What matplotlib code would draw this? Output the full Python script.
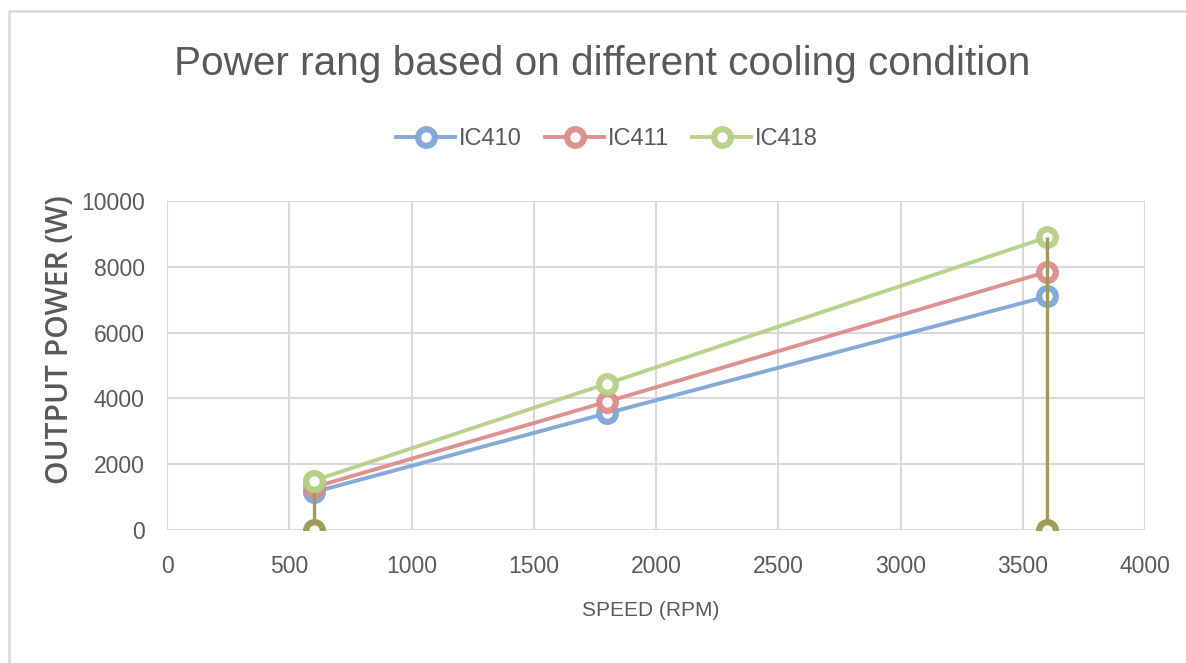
import matplotlib.pyplot as plt
from matplotlib.lines import Line2D

# data
speed = [600, 1800, 3600]
ic410 = [1150, 3550, 7100]
ic411 = [1300, 3900, 7850]
ic418 = [1500, 4450, 8900]
series_names = ["IC410", "IC411", "IC418"]
x_ticks = [0, 500, 1000, 1500, 2000, 2500, 3000, 3500, 4000]
y_ticks = [0, 2000, 4000, 6000, 8000, 10000]

colors = ["#7ea6d8", "#dc8c8c", "#b4cf86"]
olive = "#a09c58"
txt = "#595959"

plt.rcParams["font.family"] = ["Liberation Sans", "DejaVu Sans"]

W, H = 1186, 663
fig = plt.figure(figsize=(W / 100, H / 100), dpi=100)
fig.patch.set_facecolor("white")
ax = fig.add_axes([167 / W, 1 - 530 / H, 978 / W, 329 / H])

# outer chart border (left and top only visible)
fig.add_artist(Line2D([9 / W, 9 / W, 1], [0, 1 - 11 / H, 1 - 11 / H],
                      transform=fig.transFigure, color="#d9d9d9", lw=1.8))

for ys, c, name in zip([ic410, ic411, ic418], colors, series_names):
    ax.plot(speed, ys, color=c, lw=2.8, marker="o", ms=12, mew=4.5,
            mfc="white", mec=c, label=name, zorder=3, alpha=0.95)

# vertical boundary lines at min / max speed
ax.vlines([speed[0], speed[-1]], 0, [ic418[0], ic418[-1]], color=olive, lw=2.4, zorder=4)
ax.plot([speed[0], speed[-1]], [0, 0], ls="none", marker="o", ms=12, mew=4.5,
        mfc="#f4f8ec", mec=olive, zorder=5)
ax.plot([speed[0]], [ic418[0]], ls="none", marker="o", ms=12, mew=4.5,
        mfc="white", mec=colors[2], zorder=6)

ax.set_xlim(0, 4000)
ax.set_ylim(0, 10000)
ax.set_xticks(x_ticks)
ax.set_yticks(y_ticks)
ax.grid(True, color="#d9d9d9", lw=1.5)
ax.set_axisbelow(True)
for s in ax.spines.values():
    s.set_visible(False)
ax.tick_params(length=0, labelsize=16.5, colors=txt)
ax.tick_params(axis="x", pad=18)
ax.tick_params(axis="y", pad=16)
ax.set_facecolor("white")

fig.text(651 / W, 1 - 610 / H, "SPEED (RPM)", ha="center", va="center",
         fontsize=15, color=txt)
fig.text(60 / W, 1 - 340 / H, "OUTPUT POWER (W)", ha="center", va="center",
         rotation=90, fontsize=21.5, color=txt, fontweight=600,
         family=["Open Sans", "DejaVu Sans"])

fig.text(602 / W, 1 - 64 / H, "Power rang based on different cooling condition",
         ha="center", va="center", fontsize=29.2, color=txt)

leg = fig.legend(loc="center", bbox_to_anchor=(607 / W, 1 - 139 / H), ncol=3,
                 frameon=False, fontsize=17, handlelength=2.5, columnspacing=1.0,
                 handletextpad=0.15, labelcolor=txt)

fig.savefig("out.png", dpi=100, facecolor="white")
